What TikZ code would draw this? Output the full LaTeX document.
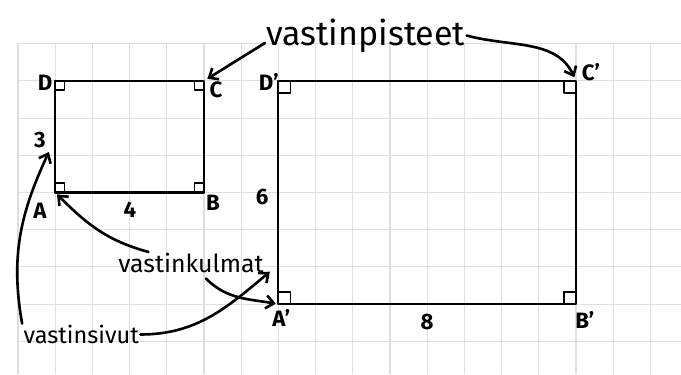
\documentclass[tikz,border=0pt]{standalone}
\usepackage{fontspec}
\setmainfont{Fira Sans}
\usetikzlibrary{arrows.meta}

\begin{document}
\begin{tikzpicture}[x=1cm, y=1cm, >={Straight Barb[length=6pt,width=10pt]}, line cap=round, line join=round,
  ruutu/.style={gray!25, line width=0.8pt},
  sivu/.style={line width=1.6pt},
  kulma/.style={line width=1.1pt},
  nuoli/.style={->, line width=2pt},
  kirjain/.style={font=\bfseries\fontsize{17}{17}\selectfont, inner sep=1pt},
  sana/.style={inner sep=1pt, anchor=base}]
  \useasboundingbox (-0.484,-0.879) rectangle (17.823,9.175);

  % ruudukko
  \foreach \i in {0,...,17} \draw[ruutu] (\i,-0.879) -- (\i,8);
  \foreach \j in {0,...,8} \draw[ruutu] (0,\j) -- (17.823,\j);

  % pieni suorakulmio 4 x 3
  \coordinate (A) at (1,4);
  \coordinate (B) at (5,4);
  \coordinate (C) at (5,7);
  \coordinate (D) at (1,7);
  \draw[sivu] (A) -- (B) -- (C) -- (D) -- cycle;
  \draw[kulma] (1,4.25) -| (1.25,4);
  \draw[kulma] (5,4.25) -| (4.75,4);
  \draw[kulma] (5,6.75) -| (4.75,7);
  \draw[kulma] (1,6.75) -| (1.25,7);

  % iso suorakulmio 8 x 6
  \coordinate (A2) at (7,1);
  \coordinate (B2) at (15,1);
  \coordinate (C2) at (15,7);
  \coordinate (D2) at (7,7);
  \draw[sivu] (A2) -- (B2) -- (C2) -- (D2) -- cycle;
  \draw[kulma] (7,1.32) -| (7.32,1);
  \draw[kulma] (15,1.32) -| (14.68,1);
  \draw[kulma] (15,6.68) -| (14.68,7);
  \draw[kulma] (7,6.68) -| (7.32,7);

  % kirjaimet ja mitat
  \node[kirjain] (lD) at (0.73,6.94) {D};
  \node[kirjain] (lC) at (5.32,6.75) {C};
  \node[kirjain] (lA) at (0.59,3.52) {A};
  \node[kirjain] (lB) at (5.24,3.72) {B};
  \node[kirjain] (l3) at (0.59,5.41) {3};
  \node[kirjain] (l4) at (3.01,3.53) {4};
  \node[kirjain] (lD2) at (6.74,6.97) {D’};
  \node[kirjain] (lC2) at (15.40,7.24) {C’};
  \node[kirjain] (l6) at (6.56,3.88) {6};
  \node[kirjain] (lA2) at (7.08,0.63) {A’};
  \node[kirjain] (lB2) at (15.24,0.57) {B’};
  \node[kirjain] (l8) at (11.00,0.52) {8};

  % selitteet
  \node[sana, font=\fontsize{26}{26}\selectfont] (vp) at (9.35,7.96) {vastinpisteet};
  \node[sana, font=\fontsize{19}{19}\selectfont] (vk) at (4.65,1.84) {vastinkulmat};
  \node[sana, font=\fontsize{18}{18}\selectfont] (vs) at (1.70,-0.06) {vastinsivut};
  \coordinate (s1) at (6.77,1.87);
  \coordinate (s2) at (0.83,5.09);

  % nuolet
  \draw[nuoli, shorten >=3pt] ([yshift=-0.2cm]vp.west) -- (C);
  \draw[nuoli, shorten >=3pt] (vp.east) to[out=-15, in=115] (C2);
  \draw[nuoli, shorten >=2pt] ([xshift=0.85cm]vk.north west) to[out=165, in=-45] (A);
  \draw[nuoli, shorten >=2pt] ([xshift=0.4cm, yshift=-0.1cm]vk.south) to[out=-45, in=170] (A2);
  \draw[nuoli] (vs.east) to[out=0, in=-140] (s1);
  \draw[nuoli] (vs.north west) to[out=100, in=-115] (s2);
\end{tikzpicture}
\end{document}
